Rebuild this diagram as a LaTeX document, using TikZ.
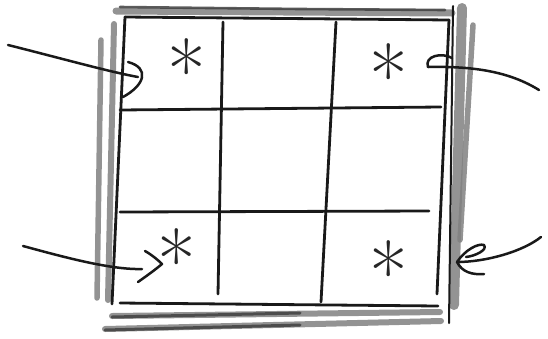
\documentclass[tikz,border=0pt]{standalone}
\begin{document}
\begin{tikzpicture}[x=1pt,y=-1pt,line cap=round,line join=round,
  ink/.style={draw=black!90,line width=2.8pt},
  pencil/.style={draw=black!50,line width=7pt,opacity=0.85},
  pencildark/.style={draw=black!75,line width=2.6pt,opacity=0.85},
  starmark/.style={inner sep=0pt,text=black!85,font=\fontsize{84}{84}\selectfont},
  arrowline/.style={draw=black!90,line width=2.5pt}]
\useasboundingbox (0,0) rectangle (548,338);
% pencil frame
\draw[pencil] (116,11) -- (452,13);
\draw[pencildark] (120,7) -- (300,9) -- (445,10);
\draw[pencil,line width=5.5pt] (101,40) -- (97,298);
\draw[pencil,line width=6pt] (114,24) -- (108,300);
\draw[pencil,line width=10pt] (462,8) -- (454,305);
\draw[pencil,line width=5.5pt] (473,25) -- (460,240);
\draw[ink,line width=2pt] (453,6) -- (449,323);
\draw[pencil,line width=6pt] (112,316) -- (440,312);
\draw[pencil,line width=6pt] (105,329) -- (441,321);
\draw[pencildark,line width=3pt] (112,317) -- (300,313);
\draw[pencildark,line width=3pt] (105,330) -- (300,325);
% grid
\coordinate (tl) at (125,17);
\coordinate (tr) at (449,20);
\coordinate (br) at (438,306);
\coordinate (bl) at (112,304);
\draw[ink] (tl) -- (tr);
\draw[ink] (tl) -- (bl);
\draw[ink] (tr) -- (437,294);
\draw[ink] (120,303) -- (br);
\draw[ink] (223,22) -- (218,294);
\draw[ink] (336,22) -- (321,302);
\draw[ink] (120,110) -- (441,107);
\draw[ink] (120,212) -- (429,211);
% asterisks
\node[starmark] (s1) at (187,70) {*};
\node[starmark] (s2) at (389,75) {*};
\node[starmark] (s3) at (177,260) {*};
\node[starmark] (s4) at (389,272) {*};
% arrows
\coordinate (a1s) at (8,45);
\coordinate (a1e) at (138,77);
\draw[arrowline] (a1s) .. controls (60,58) and (110,72) .. (a1e);
\draw[arrowline] (128,62) .. controls (150,68) and (145,85) .. (123,97);
\coordinate (a2s) at (539,90);
\coordinate (a2e) at (428,67);
\draw[arrowline] (a2s) .. controls (510,72) and (475,66) .. (a2e);
\draw[arrowline] (a2e) .. controls (424,56) and (442,52) .. (452,58);
\coordinate (a3s) at (23,246);
\coordinate (a3e) at (142,269);
\draw[arrowline] (a3s) .. controls (60,256) and (110,270) .. (a3e);
\draw[arrowline] (145,251) .. controls (152,255) and (158,260) .. (162,264) .. controls (155,270) and (145,277) .. (138,282);
\coordinate (a4s) at (541,237);
\coordinate (a4e) at (457,262);
\draw[arrowline] (a4s) .. controls (522,252) and (485,262) .. (a4e);
\draw[arrowline] (a4e) .. controls (465,250) and (478,243) .. (484,245) .. controls (488,250) and (475,256) .. (466,257);
\draw[arrowline] (a4e) .. controls (462,272) and (472,275) .. (484,274);
\end{tikzpicture}
\end{document}
